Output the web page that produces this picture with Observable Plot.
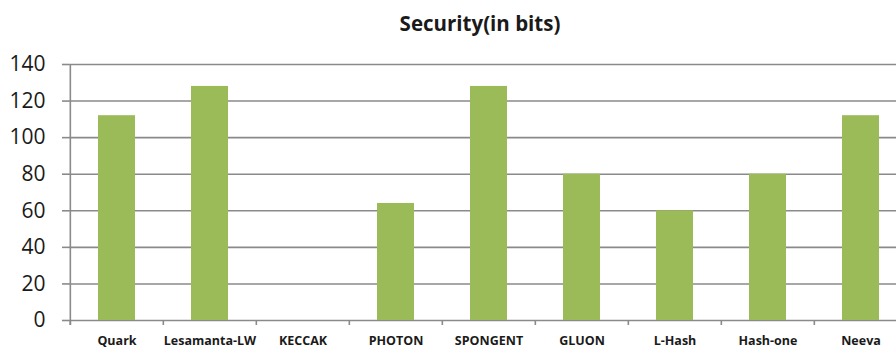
<!DOCTYPE html>
<html>
<head>
<meta charset="utf-8">
<script src="https://cdn.jsdelivr.net/npm/d3@7"></script>
<script src="https://cdn.jsdelivr.net/npm/@observablehq/plot@0.6"></script>
<style>
  html, body { margin: 0; padding: 0; background: #ffffff; }
  #wrap { width: 896px; height: 350px; overflow: hidden; font-family: "Open Sans", sans-serif; }
  #title {
    height: 50px; box-sizing: border-box; padding-left: 64px; padding-top: 9px;
    text-align: center; font-weight: bold; font-size: 20.5px; color: #1a1a1a; line-height: 28px;
  }
  svg { display: block; }
</style>
</head>
<body>
<div id="wrap">
  <div id="title">Security(in bits)</div>
  <div id="chart"></div>
</div>
<script>
// Hash functions and their security level in bits
const categories = ["Quark", "Lesamanta-LW", "KECCAK", "PHOTON", "SPONGENT", "GLUON", "L-Hash", "Hash-one", "Neeva"];
const securityBits = [112, 128, 0, 64, 128, 80, 60, 80, 112];
const yTicks = [0, 20, 40, 60, 80, 100, 120, 140];

const rows = categories.map((name, i) => ({name, bits: securityBits[i]}));

const gray = "#8a8a8a";
const xRange = [69, 909];
const step = (xRange[1] - xRange[0]) / categories.length;

const chart = Plot.plot({
  width: 896,
  height: 300,
  marginTop: 14,
  marginBottom: 30,
  marginLeft: 69,
  marginRight: 0,
  style: {fontFamily: "'Open Sans', sans-serif", color: "#1a1a1a", background: "#ffffff"},
  x: {domain: categories, range: xRange, paddingInner: 0.6, paddingOuter: 0.3},
  y: {domain: [0, 140]},
  marks: [
    Plot.gridY(yTicks, {stroke: gray, strokeOpacity: 1, strokeWidth: 1.6}),
    Plot.barY(rows, {x: "name", y: "bits", fill: "#9bbb59"}),
    // vertical axis line at the left edge of the first band
    Plot.ruleX([categories[0]], {dx: -step / 2, stroke: gray, strokeWidth: 1.6, insetBottom: -5}),
    // category separator ticks below the baseline
    Plot.ruleX(categories, {dx: -step / 2, stroke: gray, strokeWidth: 1.6, insetTop: 256, insetBottom: -5}),
    Plot.axisY({ticks: yTicks, tickSize: 7, tickPadding: 17, fontSize: 21, stroke: gray, strokeWidth: 1.6, fill: "#1a1a1a", label: null}),
    Plot.axisX({tickSize: 0, tickPadding: 16, fontSize: 12.5, fontWeight: "bold", fill: "#1a1a1a", label: null})
  ]
});
document.getElementById("chart").appendChild(chart);
</script>
</body>
</html>
